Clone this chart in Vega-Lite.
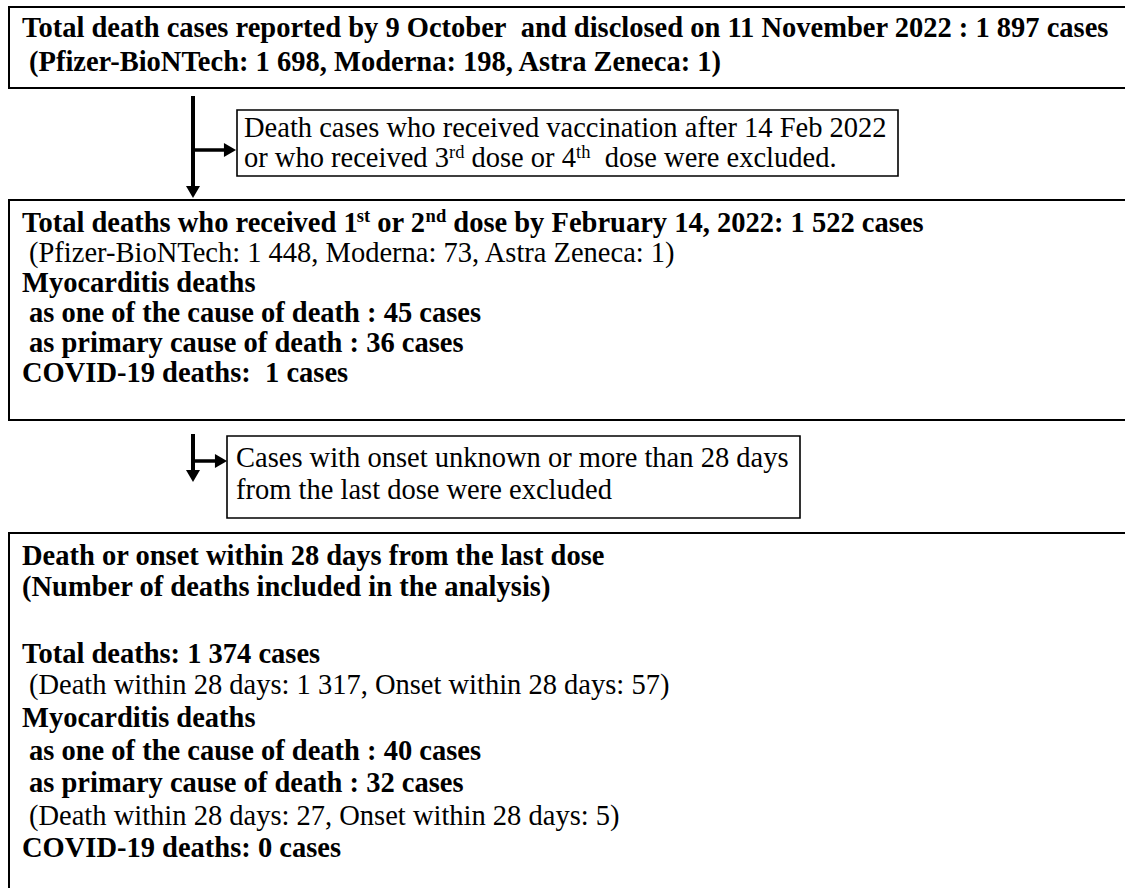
{
  "$schema": "https://vega.github.io/schema/vega-lite/v6.json",
  "width": 1125,
  "height": 888,
  "autosize": "none",
  "padding": 0,
  "background": "white",
  "config": {"view": {"stroke": null}},
  "datasets": {
    "boxes": [
      {"box": "total", "role": "main", "x": 9, "x2": 1140, "y": 7, "y2": 88},
      {"box": "excl1", "role": "side", "x": 237, "x2": 898, "y": 110, "y2": 176},
      {"box": "dose12", "role": "main", "x": 9, "x2": 1140, "y": 200, "y2": 420},
      {"box": "excl2", "role": "side", "x": 227, "x2": 800, "y": 436, "y2": 518},
      {"box": "analysis", "role": "main", "x": 9, "x2": 1140, "y": 533, "y2": 900}
    ],
    "lines": [
      {"seg": "down1", "role": "trunk", "x": 193, "y": 96, "x2": 193, "y2": 188},
      {"seg": "side1", "role": "branch", "x": 193, "y": 150, "x2": 226, "y2": 150},
      {"seg": "down2", "role": "trunk", "x": 193, "y": 434, "x2": 193, "y2": 471},
      {"seg": "side2", "role": "branch", "x": 193, "y": 461, "x2": 217, "y2": 461}
    ],
    "heads": [
      {"seg": "down1", "dir": "down", "x": 193, "y": 192},
      {"seg": "side1", "dir": "right", "x": 230, "y": 150},
      {"seg": "down2", "dir": "down", "x": 193, "y": 476},
      {"seg": "side2", "dir": "right", "x": 221, "y": 461}
    ],
    "texts": [
      {"k": "b", "x": 22, "y": 37, "label": "Total death cases reported by 9 October\u00a0 and disclosed on 11 November 2022 : 1 897 cases"},
      {"k": "b", "x": 29, "y": 71, "label": "(Pfizer-BioNTech: 1 698, Moderna: 198, Astra Zeneca: 1)"},
      {"k": "r", "x": 244, "y": 137, "label": "Death cases who received vaccination after 14 Feb 2022"},
      {"k": "r", "x": 244, "y": 167, "label": "or who received 3"},
      {"k": "rs", "x": 449, "y": 167, "label": "rd"},
      {"k": "r", "x": 471.5, "y": 167, "label": "dose or 4"},
      {"k": "rs", "x": 576, "y": 167, "label": "th"},
      {"k": "r", "x": 604.7, "y": 167, "label": "dose were excluded."},
      {"k": "b", "x": 22, "y": 232, "label": "Total deaths who received 1"},
      {"k": "bs", "x": 356.8, "y": 232, "label": "st"},
      {"k": "b", "x": 377.3, "y": 232, "label": "or 2"},
      {"k": "bs", "x": 425.6, "y": 232, "label": "nd"},
      {"k": "b", "x": 453.3, "y": 232, "label": "dose by February 14, 2022: 1 522 cases"},
      {"k": "r", "x": 29, "y": 262, "label": "(Pfizer-BioNTech: 1 448, Moderna: 73, Astra Zeneca: 1)"},
      {"k": "b", "x": 22, "y": 292, "label": "Myocarditis deaths"},
      {"k": "b", "x": 29, "y": 322, "label": "as one of the cause of death : 45 cases"},
      {"k": "b", "x": 29, "y": 352, "label": "as primary cause of death : 36 cases"},
      {"k": "b", "x": 22, "y": 382, "label": "COVID-19 deaths:\u00a0 1 cases"},
      {"k": "r", "x": 236, "y": 467, "label": "Cases with onset unknown or more than 28 days"},
      {"k": "r", "x": 236, "y": 499, "label": "from the last dose were excluded"},
      {"k": "b", "x": 22, "y": 565, "label": "Death or onset within 28 days from the last dose"},
      {"k": "b", "x": 22, "y": 596, "label": "(Number of deaths included in the analysis)"},
      {"k": "b", "x": 22, "y": 663, "label": "Total deaths: 1 374 cases"},
      {"k": "r", "x": 29, "y": 694, "label": "(Death within 28 days: 1 317, Onset within 28 days: 57)"},
      {"k": "b", "x": 22, "y": 727, "label": "Myocarditis deaths"},
      {"k": "b", "x": 29, "y": 760, "label": "as one of the cause of death : 40 cases"},
      {"k": "b", "x": 29, "y": 792, "label": "as primary cause of death : 32 cases"},
      {"k": "r", "x": 29, "y": 825, "label": "(Death within 28 days: 27, Onset within 28 days: 5)"},
      {"k": "b", "x": 22, "y": 857, "label": "COVID-19 deaths: 0 cases"}
    ]
  },
  "layer": [
    {
      "data": {"name": "boxes"},
      "transform": [{"filter": "datum.role === 'main'"}],
      "mark": {"type": "rect", "fill": "white", "stroke": "black", "strokeWidth": 2, "clip": true},
      "encoding": {
        "x": {"field": "x", "type": "quantitative", "scale": {"domain": [0, 1125], "nice": false, "zero": false}, "axis": null},
        "x2": {"field": "x2"},
        "y": {"field": "y", "type": "quantitative", "scale": {"domain": [0, 888], "nice": false, "zero": false, "reverse": true}, "axis": null},
        "y2": {"field": "y2"}
      }
    },
    {
      "data": {"name": "boxes"},
      "transform": [{"filter": "datum.role === 'side'"}],
      "mark": {"type": "rect", "fill": "white", "stroke": "black", "strokeWidth": 1.6, "clip": true},
      "encoding": {
        "x": {"field": "x", "type": "quantitative", "scale": {"domain": [0, 1125], "nice": false, "zero": false}, "axis": null},
        "x2": {"field": "x2"},
        "y": {"field": "y", "type": "quantitative", "scale": {"domain": [0, 888], "nice": false, "zero": false, "reverse": true}, "axis": null},
        "y2": {"field": "y2"}
      }
    },
    {
      "data": {"name": "lines"},
      "transform": [{"filter": "datum.role === 'trunk'"}],
      "mark": {"type": "rule", "color": "black", "strokeWidth": 4},
      "encoding": {
        "x": {"field": "x", "type": "quantitative", "scale": {"domain": [0, 1125], "nice": false, "zero": false}, "axis": null},
        "x2": {"field": "x2"},
        "y": {"field": "y", "type": "quantitative", "scale": {"domain": [0, 888], "nice": false, "zero": false, "reverse": true}, "axis": null},
        "y2": {"field": "y2"}
      }
    },
    {
      "data": {"name": "lines"},
      "transform": [{"filter": "datum.role === 'branch'"}],
      "mark": {"type": "rule", "color": "black", "strokeWidth": 3.5},
      "encoding": {
        "x": {"field": "x", "type": "quantitative", "scale": {"domain": [0, 1125], "nice": false, "zero": false}, "axis": null},
        "x2": {"field": "x2"},
        "y": {"field": "y", "type": "quantitative", "scale": {"domain": [0, 888], "nice": false, "zero": false, "reverse": true}, "axis": null},
        "y2": {"field": "y2"}
      }
    },
    {
      "data": {"name": "heads"},
      "mark": {"type": "point", "filled": true, "fill": "black", "strokeWidth": 0, "opacity": 1, "size": 196},
      "encoding": {
        "x": {"field": "x", "type": "quantitative", "scale": {"domain": [0, 1125], "nice": false, "zero": false}, "axis": null},
        "y": {"field": "y", "type": "quantitative", "scale": {"domain": [0, 888], "nice": false, "zero": false, "reverse": true}, "axis": null},
        "shape": {"field": "dir", "type": "nominal", "scale": {"domain": ["down", "right"], "range": ["triangle-down", "triangle-right"]}, "legend": null}
      }
    },
    {
      "data": {"name": "texts"},
      "transform": [{"filter": "datum.k === 'b'"}],
      "mark": {"type": "text", "align": "left", "baseline": "alphabetic", "font": "Liberation Serif", "fontWeight": "bold", "fontSize": 28.5, "color": "black"},
      "encoding": {
        "x": {"field": "x", "type": "quantitative", "scale": {"domain": [0, 1125], "nice": false, "zero": false}, "axis": null},
        "y": {"field": "y", "type": "quantitative", "scale": {"domain": [0, 888], "nice": false, "zero": false, "reverse": true}, "axis": null},
        "text": {"field": "label", "type": "nominal"}
      }
    },
    {
      "data": {"name": "texts"},
      "transform": [{"filter": "datum.k === 'bs'"}],
      "mark": {"type": "text", "align": "left", "baseline": "alphabetic", "font": "Liberation Serif", "fontWeight": "bold", "fontSize": 18.5, "dy": -10, "color": "black"},
      "encoding": {
        "x": {"field": "x", "type": "quantitative", "scale": {"domain": [0, 1125], "nice": false, "zero": false}, "axis": null},
        "y": {"field": "y", "type": "quantitative", "scale": {"domain": [0, 888], "nice": false, "zero": false, "reverse": true}, "axis": null},
        "text": {"field": "label", "type": "nominal"}
      }
    },
    {
      "data": {"name": "texts"},
      "transform": [{"filter": "datum.k === 'r'"}],
      "mark": {"type": "text", "align": "left", "baseline": "alphabetic", "font": "Liberation Serif", "fontWeight": "normal", "fontSize": 28.5, "color": "black"},
      "encoding": {
        "x": {"field": "x", "type": "quantitative", "scale": {"domain": [0, 1125], "nice": false, "zero": false}, "axis": null},
        "y": {"field": "y", "type": "quantitative", "scale": {"domain": [0, 888], "nice": false, "zero": false, "reverse": true}, "axis": null},
        "text": {"field": "label", "type": "nominal"}
      }
    },
    {
      "data": {"name": "texts"},
      "transform": [{"filter": "datum.k === 'rs'"}],
      "mark": {"type": "text", "align": "left", "baseline": "alphabetic", "font": "Liberation Serif", "fontWeight": "normal", "fontSize": 18.5, "dy": -9, "color": "black"},
      "encoding": {
        "x": {"field": "x", "type": "quantitative", "scale": {"domain": [0, 1125], "nice": false, "zero": false}, "axis": null},
        "y": {"field": "y", "type": "quantitative", "scale": {"domain": [0, 888], "nice": false, "zero": false, "reverse": true}, "axis": null},
        "text": {"field": "label", "type": "nominal"}
      }
    }
  ]
}
